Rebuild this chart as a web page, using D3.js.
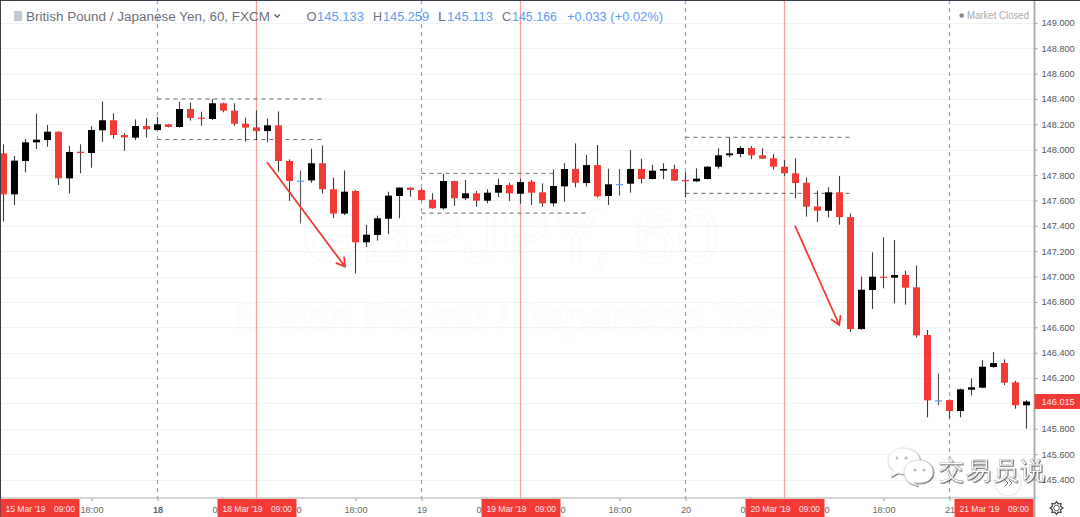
<!DOCTYPE html>
<html><head><meta charset="utf-8">
<script src="https://cdn.jsdelivr.net/npm/d3@7/dist/d3.min.js"></script>
<style>
html,body{margin:0;padding:0;background:#fff;overflow:hidden}
svg{display:block}
text{font-family:"Liberation Sans",Arial,sans-serif}
</style></head><body><svg id="c" width="1080" height="517"></svg>
<script>
const firstBar=-14;
const opens=[147.971,147.648,147.911,148.058,148.076,148.142,147.774,147.984,147.974,148.153,148.232,148.116,148.095,148.187,
148.155,148.200,148.179,148.321,148.253,148.242,148.366,148.308,148.205,148.176,148.147,148.192,147.911,147.756,147.758,147.893,147.688,147.496,147.674,147.270,147.328,147.456,147.635,147.701,147.682,147.606,147.538,147.753,147.617,147.656,147.598,147.661,147.722,147.653,147.748,147.664,147.577,147.711,147.848,147.737,147.879,147.635,147.730,147.732,147.848,147.769,147.835,147.848,
147.761,147.751,147.769,147.866,147.956,147.966,148.013,147.956,147.932,147.866,147.814,147.740,147.553,147.519,147.664,147.469,146.586,146.894,146.999,146.991,147.012,146.915,146.539,146.024,146.026,145.940,146.108,146.124,146.287,146.318,146.166,145.985];
const highs=[148.042,147.950,148.084,148.284,148.195,148.145,148.029,148.042,148.187,148.381,148.287,148.129,148.239,148.247,
148.258,148.203,148.376,148.371,148.300,148.400,148.371,148.366,148.253,148.310,148.245,148.302,147.924,147.835,148.008,148.034,147.780,147.837,147.682,147.406,147.480,147.669,147.704,147.704,147.695,147.656,147.811,147.756,147.761,147.674,147.688,147.772,147.740,147.772,147.761,147.735,147.845,147.893,148.050,147.958,148.037,147.850,147.848,147.998,147.927,147.882,147.893,147.882,
147.822,147.853,147.869,148.011,148.097,148.029,148.029,148.011,147.966,147.919,147.932,147.780,147.677,147.703,147.793,147.498,146.999,147.191,147.309,147.288,147.046,147.088,146.579,146.237,146.032,146.116,146.197,146.342,146.405,146.347,146.179,146.026];
const lows=[147.433,147.564,147.822,148.006,148.024,147.722,147.656,147.814,147.858,148.063,148.087,147.992,148.076,148.097,
148.153,148.176,148.174,148.229,148.189,148.234,148.295,148.189,148.063,148.076,148.058,147.827,147.596,147.419,147.740,147.656,147.459,147.485,147.025,147.233,147.283,147.333,147.459,147.630,147.598,147.535,147.527,147.556,147.603,147.551,147.577,147.627,147.596,147.575,147.564,147.551,147.551,147.590,147.703,147.709,147.624,147.564,147.638,147.661,147.735,147.766,147.769,147.753,
147.624,147.745,147.766,147.850,147.940,147.940,147.927,147.927,147.845,147.793,147.617,147.472,147.430,147.467,147.409,146.565,146.581,146.744,146.907,146.789,146.778,146.520,145.890,145.985,145.882,145.890,146.063,146.119,146.281,146.145,145.958,145.800];
const closes=[147.648,147.914,148.058,148.079,148.142,147.774,147.982,147.974,148.155,148.232,148.116,148.097,148.187,148.161,
148.200,148.179,148.321,148.250,148.245,148.366,148.308,148.205,148.174,148.147,148.192,147.911,147.753,147.756,147.893,147.688,147.496,147.669,147.270,147.330,147.459,147.638,147.701,147.682,147.603,147.538,147.753,147.617,147.656,147.598,147.661,147.722,147.656,147.745,147.661,147.577,147.714,147.848,147.740,147.879,147.632,147.727,147.730,147.848,147.769,147.835,147.848,147.756,
147.751,147.772,147.866,147.956,147.971,148.013,147.956,147.929,147.866,147.814,147.737,147.551,147.519,147.664,147.469,146.586,146.896,146.999,146.991,147.012,146.912,146.536,146.024,146.024,145.940,146.111,146.127,146.289,146.318,146.163,145.985,146.015];

const priceTicks=[149,148.8,148.6,148.4,148.2,148,147.8,147.6,147.4,147.2,147,146.8,146.6,146.4,146.2,146,145.8,145.6,145.4];
const timeTickBars=[-6,0,6,12,18,24,30,36,42,48,54,60,66,72];
const timeTickLabels=["18:00","18","06:00","12:00","18:00","19","06:00","12:00","18:00","20","06:00","12:00","18:00","21"];
const dayBars=[0,24,48,72];
const sessionBars=[9,33,57];
const dateLabels=["15 Mar '19","18 Mar '19","19 Mar '19","20 Mar '19","21 Mar '19"];
const dateLabelBars=[-10.7,9,33,57,76];
const rangeStart=[0,0,24,24,48,48];
const rangeEnd=[15,15,36,39,63,63];
const rangePrice=[148.40,148.08,147.814,147.50,148.098,147.656];
const arrowBar1=[9.95,57.95], arrowPrice1=[147.903,147.401];
const arrowBar2=[17.05,61.98], arrowPrice2=[147.078,146.618];
const lastPrice=146.015;
const legendTitle="British Pound / Japanese Yen, 60, FXCM";
const legendParts=["O","145.133","H","145.259","L","145.113","C","145.166","+0.033 (+0.02%)"];

const W=1080,H=517,axisX=1034.5,axisY=498;
const RED="#f23a36",BLUE="#5e9cf5";
const x=d3.scaleLinear().domain([0,72]).range([157.5,949.5]);
const y=d3.scaleLinear().domain([149,145.4]).range([22.85,479.5]);
const svg=d3.select("#c");

// gridlines
svg.append("g").selectAll("line").data(priceTicks).join("line")
 .attr("x1",0).attr("x2",axisX).attr("y1",d=>Math.round(y(d))+.5).attr("y2",d=>Math.round(y(d))+.5)
 .attr("stroke","#f3f3f3");

// watermark
svg.append("text").attr("x",510).attr("y",262).attr("text-anchor","middle")
 .attr("font-size",76).attr("fill","none").attr("stroke","#f6f6f6").attr("stroke-width",1.6).attr("stroke-dasharray","1 1").text("GBPJPY, 60");
svg.append("text").attr("x",510).attr("y",332).attr("text-anchor","middle")
 .attr("font-size",42).attr("fill","none").attr("stroke","#f8f8f8").attr("stroke-width",1.2).attr("stroke-dasharray","1 1").text("British Pound / Japanese Yen");

// vertical session lines
svg.append("g").selectAll("line").data(dayBars).join("line")
 .attr("x1",d=>x(d)).attr("x2",d=>x(d)).attr("y1",0).attr("y2",axisY)
 .attr("stroke","#7db0f8").attr("stroke-width",1.3).attr("stroke-dasharray","4 4");
svg.append("g").selectAll("line").data(sessionBars).join("line")
 .attr("x1",d=>x(d)).attr("x2",d=>x(d)).attr("y1",0).attr("y2",axisY)
 .attr("stroke","#f8a0a0").attr("stroke-width",1.3);

// range dashes
svg.append("g").selectAll("line").data(rangePrice).join("line")
 .attr("x1",(d,i)=>x(rangeStart[i])).attr("x2",(d,i)=>x(rangeEnd[i]))
 .attr("y1",d=>y(d)).attr("y2",d=>y(d))
 .attr("stroke","#666").attr("stroke-dasharray","4 4");

// candles
const bars=opens.map((o,i)=>({b:firstBar+i,o,h:highs[i],l:lows[i],c:closes[i]}));
const col=d=>d.c>d.o?"#000":d.c<d.o?RED:BLUE;
const g=svg.append("g");
g.selectAll("line.w").data(bars).join("line").attr("class","w")
 .attr("x1",d=>x(d.b)).attr("x2",d=>x(d.b)).attr("y1",d=>y(d.h)).attr("y2",d=>y(d.l))
 .attr("stroke",d=>d.c===d.o?"#555":"#3c3c3c").attr("stroke-width",1.1);
g.selectAll("rect").data(bars).join("rect")
 .attr("x",d=>x(d.b)-3.5).attr("width",7)
 .attr("y",d=>Math.min(y(d.o),y(d.c))).attr("height",d=>Math.max(1.2,Math.abs(y(d.o)-y(d.c))))
 .attr("fill",col);

// arrows
arrowBar1.forEach((b,i)=>{
  const x1=x(b),y1=y(arrowPrice1[i]),x2=x(arrowBar2[i]),y2=y(arrowPrice2[i]);
  const a=Math.atan2(y2-y1,x2-x1),L=10;
  const path=d3.path();
  path.moveTo(x1,y1);path.lineTo(x2,y2);
  path.moveTo(x2-L*Math.cos(a-.55),y2-L*Math.sin(a-.55));path.lineTo(x2,y2);
  path.lineTo(x2-L*Math.cos(a+.55),y2-L*Math.sin(a+.55));
  svg.append("path").attr("d",path.toString()).attr("fill","none").attr("stroke",RED).attr("stroke-width",1.8);
});

// axes
const yAxis=d3.axisRight(y).tickValues(priceTicks).tickSize(3).tickPadding(4).tickFormat(d3.format(".3f"));
const ya=svg.append("g").attr("transform",`translate(${axisX},0)`).call(yAxis);
ya.select(".domain").remove();
ya.selectAll("line").attr("stroke","#999");
ya.selectAll("text").attr("font-size",9.2).attr("fill","#555").attr("font-family","Liberation Sans");
const xAxis=d3.axisBottom(x).tickValues(timeTickBars).tickSize(3).tickPadding(5)
 .tickFormat(d=>timeTickLabels[timeTickBars.indexOf(d)]);
const xa=svg.append("g").attr("transform",`translate(0,${axisY})`).call(xAxis);
xa.select(".domain").remove();
xa.selectAll("line").attr("stroke","#999");
xa.selectAll("text").attr("font-size",9.2).attr("fill","#666").attr("font-family","Liberation Sans")
 .attr("font-weight",d=>d===0?"bold":"normal");
svg.append("line").attr("x1",0).attr("x2",axisX).attr("y1",axisY).attr("y2",axisY).attr("stroke","#aaa").attr("stroke-width",1.2);
svg.append("line").attr("x1",axisX).attr("x2",axisX).attr("y1",0).attr("y2",H).attr("stroke","#aaa").attr("stroke-width",1.8);
svg.append("line").attr("x1",0).attr("x2",W).attr("y1",.5).attr("y2",.5).attr("stroke","#3a3f4a");
svg.append("line").attr("x1",.5).attr("x2",.5).attr("y1",0).attr("y2",H).attr("stroke","#3a3f4a");

// date labels
const dl=svg.append("g").selectAll("g").data(dateLabels).join("g")
 .attr("transform",(d,i)=>`translate(${Math.round(x(dateLabelBars[i]))},0)`);
dl.append("rect").attr("x",-39.5).attr("y",499).attr("width",79).attr("height",18).attr("fill",RED);
dl.append("text").attr("x",-34.5).attr("y",511.5).attr("font-size",9).attr("fill","#ffe6e6").attr("font-family","Open Sans")
 .attr("textLength",40).attr("lengthAdjust","spacingAndGlyphs").text(d=>d);
dl.append("text").attr("x",14).attr("y",511.5).attr("font-size",9).attr("fill","#ffe6e6").attr("font-family","Open Sans")
 .attr("textLength",21).attr("lengthAdjust","spacingAndGlyphs").text("09:00");

// last price
svg.append("rect").attr("x",axisX).attr("y",y(lastPrice)-7.5).attr("width",W-axisX).attr("height",15).attr("fill",RED);
svg.append("text").attr("x",1041.5).attr("y",y(lastPrice)+3.3).attr("font-size",9.2).attr("fill","#ffe6e6").text(d3.format(".3f")(lastPrice));

// legend
const lf="Open Sans";
svg.append("rect").attr("x",14).attr("y",11).attr("width",8).attr("height",10).attr("fill","#c4c8d0");
svg.append("text").attr("x",26).attr("y",20.5).attr("font-family",lf).attr("font-size",12).attr("fill","#6b6f78")
 .attr("textLength",244).attr("lengthAdjust","spacingAndGlyphs").text(legendTitle);
svg.append("path").attr("d","M274.5 14.5l2.7 2.7 2.7-2.7").attr("fill","none").attr("stroke","#555").attr("stroke-width",1.2);
const legendX=[306.5,317,373,383,438,447,502,512,567],legendW=[10,47,9,46,8,46,9,45,96];
svg.append("g").selectAll("text").data(legendParts).join("text")
 .attr("x",(d,i)=>legendX[i]).attr("y",20.5).attr("font-family",lf).attr("font-size",12)
 .attr("fill",(d,i)=>i<8&&i%2===0?"#6b6f78":BLUE)
 .attr("textLength",(d,i)=>legendW[i]).attr("lengthAdjust","spacingAndGlyphs").text(d=>d);
svg.append("circle").attr("cx",961.7).attr("cy",15.5).attr("r",2.3).attr("fill","#888");
svg.append("text").attr("x",967).attr("y",19).attr("font-family",lf).attr("font-size",10).attr("fill","#aaa")
 .attr("textLength",62).attr("lengthAdjust","spacingAndGlyphs").text("Market Closed");

// scroll button
svg.append("circle").attr("cx",1008).attr("cy",483).attr("r",13).attr("fill","#fff").attr("fill-opacity",.75).attr("stroke","#eee").attr("stroke-width",1.5);
svg.append("path").attr("d","M1005 480l3 3-3 3M1009 480l3 3-3 3").attr("fill","none").attr("stroke","#777").attr("stroke-width",1);

// gear
const gearPts=d3.range(16).map(i=>{const a=i*Math.PI/8,r=i%2?4.4:6.4;return [1056.5+r*Math.cos(a),508+r*Math.sin(a)];});
svg.append("path").attr("d",d3.line().curve(d3.curveLinearClosed)(gearPts)).attr("fill","#fff").attr("stroke","#333").attr("stroke-width",1.1);
svg.append("circle").attr("cx",1056.5).attr("cy",508).attr("r",2.8).attr("fill","#fff").attr("stroke","#333").attr("stroke-width",.8);

// WeChat watermark
const defs=svg.append("defs");
const f=defs.append("filter").attr("id","ws").attr("x","-20%").attr("y","-20%").attr("width","140%").attr("height","140%");
f.append("feDropShadow").attr("dx",.7).attr("dy",.7).attr("stdDeviation",.6).attr("flood-color","#333").attr("flood-opacity",.95);
const wm=svg.append("g").attr("filter","url(#ws)");
wm.append("path").attr("d","M903 448c-8 0-15 6-15 13 0 4 2 7 5 9l-2 7 7-4c2 1 4 1 6 1 9 0 16-6 16-13s-8-13-17-13z").attr("fill","#fff").attr("stroke","#ddd").attr("stroke-width",.6);
wm.append("path").attr("d","M919 460c8 0 14 5 14 12s-6 11-14 11c-2 0-3 0-5-1l4 4-8-3c-3-2-6-6-6-11 0-7 7-12 15-12z").attr("fill","#fff").attr("stroke","#ccc").attr("stroke-width",.8);
[[897,458],[906,458],[915,470],[924,470]].forEach(p=>wm.append("circle").attr("cx",p[0]).attr("cy",p[1]).attr("r",1.5).attr("fill","#bbb"));
wm.append("text").attr("x",939).attr("y",479).attr("font-family","Noto Sans CJK SC").attr("font-size",25).attr("fill","#fff").attr("stroke","#999").attr("stroke-width",.3).attr("letter-spacing",2).text("交易员说");
</script></body></html>
